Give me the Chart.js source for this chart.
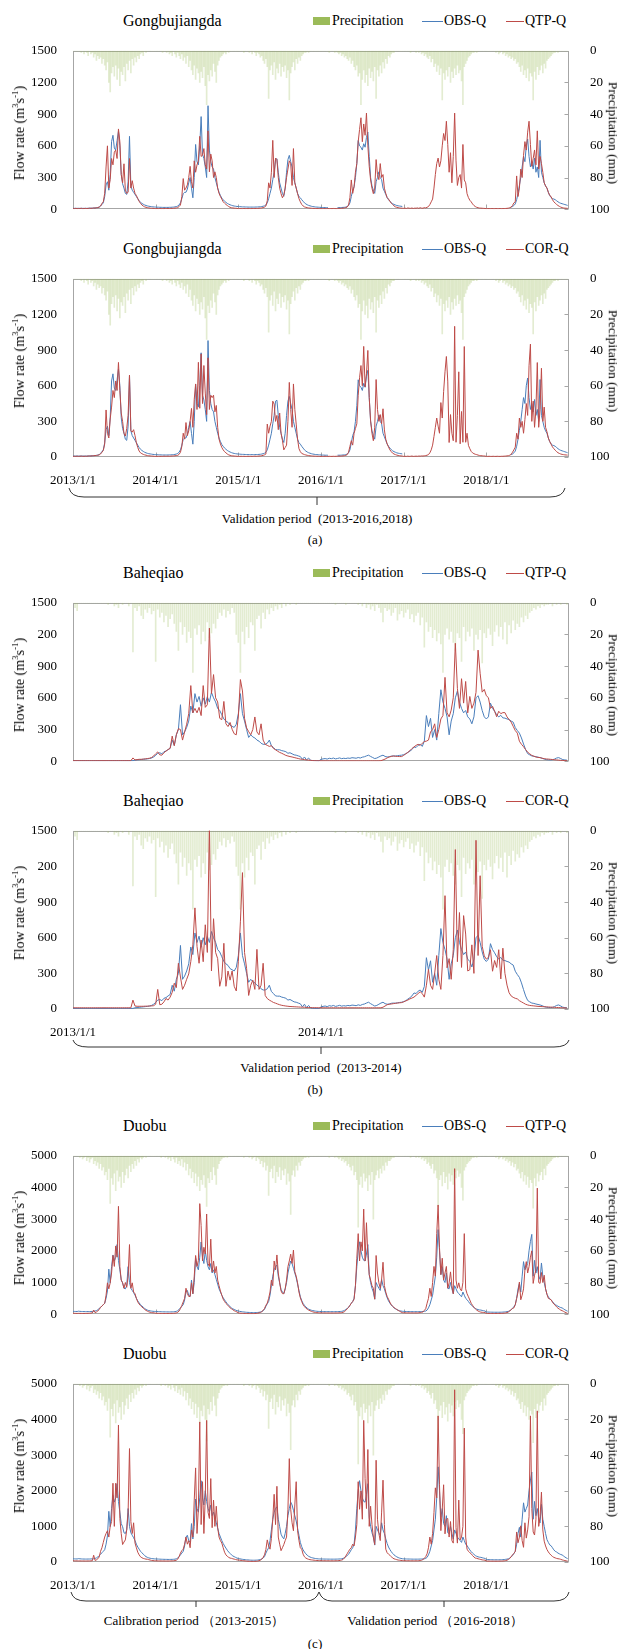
<!DOCTYPE html>
<html>
<head>
<meta charset="utf-8">
<script src="https://cdn.jsdelivr.net/npm/chart.js@4.4.1/dist/chart.umd.min.js"></script>
<style>
  body { margin: 0; width: 622px; height: 1649px; position: relative; background: #fff; overflow: hidden;
         font-family: "Liberation Serif", "Times New Roman", serif; color: #000; }
  canvas { position: absolute; left: 0; }
  .a { position: absolute; white-space: nowrap; line-height: 1; }
  .c { transform: translate(-50%, -50%); }
  .l { transform: translateY(-50%); }
  .rl { transform: translate(-50%, -50%) rotate(-90deg); font-size: 14px; }
  .rr { transform: translate(-50%, -50%) rotate(90deg); font-size: 13.5px; }
  sup { font-size: 9px; line-height: 0; }
  svg { position: absolute; left: 0; top: 0; }
</style>
</head>
<body>
<svg width="622" height="1649" fill="none" stroke="#333" stroke-width="1">
  <path d="M69,488 Q71,497 84,497 L550,497 Q563,497 565,488 M317,497 L317,505"/>
  <path d="M73,1040 Q75,1047 88,1047 L554,1047 Q567,1047 569,1040 M321,1047 L321,1054"/>
  <path d="M71,1592 Q73,1601 86,1601 L306,1601 Q316,1601 319,1592 Q322,1601 332,1601 L554,1601 Q567,1601 569,1592 M196,1601 L196,1607 M444,1601 L444,1607"/>
</svg>
<div class="a c" style="left:317px;top:518px;font-size:13px">Validation period&nbsp; (2013-2016,2018)</div>
<div class="a c" style="left:315px;top:539px;font-size:13px">(a)</div>
<div class="a c" style="left:321px;top:1067px;font-size:13px">Validation period&nbsp; (2013-2014)</div>
<div class="a c" style="left:315px;top:1089px;font-size:13px">(b)</div>
<div class="a c" style="left:194px;top:1620px;font-size:13px">Calibration period （2013-2015）</div>
<div class="a c" style="left:435px;top:1620px;font-size:13px">Validation period （2016-2018）</div>
<div class="a c" style="left:315px;top:1643px;font-size:13px">(c)</div>

<script>
// ---- Gongbujiangda, 60 samples per year, 2013-2018 ----
const gbObs = [
  8,8,8,8,8,8,8,8,8,8, 8,9,9,10,10,11,12,14,16,20, 30,45,60,120,230,260,180,330,640,700,
  580,560,650,740,600,330,240,200,150,140, 260,690,220,180,160,140,120,100,80,65, 55,47,40,35,31,28,26,24,22,21,
  20,19,19,18,18,17,17,17,17,17, 18,18,19,20,22,25,30,40,60,100, 147,160,160,190,250,300,199,108,300,613,
  450,420,600,877,520,480,400,300,980,560, 450,400,380,300,250,200,160,130,105,90, 75,65,55,48,42,37,33,30,28,26,
  25,24,23,22,22,21,21,20,20,20, 20,20,20,21,21,22,23,25,28,32, 40,60,100,150,200,280,350,470,478,350,
  250,200,150,122,200,350,470,510,450,400, 300,250,200,150,120,108,90,75,60,50, 42,36,32,28,25,23,21,20,19,18,
  17,16,16,15,15,15,null,null,null,null, null,null,15,15,15,16,17,18,20,25, 35,60,120,180,212,300,432,650,600,587,
  560,620,587,680,730,500,300,220,180,150, 260,300,354,300,280,200,170,140,110,90, 75,62,52,45,40,35,32,30,28,26,
  null,null,null,null,null,null,null,null,null,null, null,null,null,null,null,null,null,null,null,null, null,null,null,null,null,null,null,null,null,null,
  null,null,null,null,null,null,null,null,null,null, null,null,null,null,null,null,null,null,null,null, null,null,null,null,null,null,null,null,null,null,
  null,null,null,null,null,null,null,null,null,null, null,null,null,null,null,null,null,null,20,25, 35,50,90,150,225,300,400,500,450,600,
  665,500,400,450,380,484,350,400,300,652, 350,300,250,220,200,160,130,110,100,96, 90,80,70,62,56,52,48,44,40,36
];
const gbQtp = [
  6,5,8,5,7,6,9,5,6,8, 6,7,10,8,9,12,10,14,15,20, 30,55,70,150,400,600,200,280,480,420,
  540,560,480,760,640,330,250,430,180,150, 160,480,200,270,200,150,130,100,75,55, 40,30,22,18,15,12,10,9,8,7,
  5,6,5,7,5,6,5,8,6,7, 6,8,7,9,10,12,15,25,40,120, 290,180,200,230,300,406,260,200,458,350,
  420,458,690,500,510,574,420,380,742,354, 522,458,300,354,300,200,150,120,96,70, 57,45,35,25,18,14,12,10,9,8,
  5,6,5,5,7,5,6,5,6,5, 6,7,6,8,7,9,10,12,15,20, 30,80,250,200,350,652,300,484,470,300,
  200,147,108,135,200,300,380,458,432,225, 574,250,200,147,100,70,45,31,22,18, 15,12,10,9,8,7,7,6,6,5,
  5,5,6,5,5,6,5,6,5,7, 6,5,6,8,7,9,10,12,15,20, 40,110,277,150,212,350,432,639,755,866,
  639,807,700,910,600,406,277,199,147,200, 470,328,280,432,300,328,199,150,110,96, 75,57,44,31,22,18,15,12,10,9,
  8,10,7,12,9,8,11,7,10,9, 12,8,14,10,9,15,12,18,25,44, 70,96,200,328,432,484,400,458,600,717,
  650,833,613,350,535,250,500,910,458,225, 300,328,200,613,277,250,147,110,85,70, 50,35,25,18,14,11,10,9,8,7,
  5,6,5,5,6,5,5,6,5,5, 6,5,6,6,7,8,10,14,20,35, 60,70,315,120,200,380,300,510,640,560,
  730,833,613,406,480,561,420,742,380,500, 432,350,250,220,200,160,130,120,90,70, 57,45,35,27,20,15,12,10,9,8
];
const gbCor = [
  5,6,5,7,5,6,8,6,5,7, 6,8,9,8,10,11,12,13,15,18, 25,40,55,110,396,200,160,320,420,560,
  500,640,560,796,560,370,300,200,176,240, 350,690,220,210,230,180,120,80,50,35, 28,22,18,15,12,10,9,8,7,6,
  5,5,6,5,6,5,7,6,6,7, 6,7,8,9,10,12,14,22,40,90, 200,150,290,180,220,300,409,250,486,615,
  400,797,410,868,450,770,538,357,835,400, 520,500,520,380,434,250,150,110,80,60, 45,35,25,18,14,11,9,8,7,6,
  5,5,6,5,6,5,5,6,5,6, 5,6,7,6,7,8,9,11,14,18, 25,277,200,260,300,470,445,300,350,230,
  370,200,140,60,80,100,300,628,400,250, 615,400,277,150,70,45,30,25,20,17, 14,12,10,9,8,7,7,6,6,5,
  5,5,5,6,5,5,6,5,5,6, 5,6,6,7,7,8,9,11,14,20, 40,90,137,100,200,240,280,520,667,770,
  600,931,590,700,897,500,305,200,137,250, 652,400,300,357,280,406,228,150,110,85, 60,45,32,25,20,16,13,11,9,8,
  5,6,5,7,5,6,8,5,6,7, 6,8,7,9,8,10,12,15,20,35, 60,100,173,250,328,260,200,458,328,550,
  717,846,639,122,357,200,137,1100,124,350, 717,111,383,124,930,124,200,98,70,47, 35,28,23,20,16,13,11,10,9,8,
  5,5,6,5,5,6,5,5,6,5, 5,6,6,7,8,9,11,15,22,40, 60,83,200,150,328,250,300,200,315,450,
  350,768,950,300,470,250,400,795,250,400, 747,300,420,250,212,160,130,108,85,70, 57,45,36,30,25,22,20,18,17,16
];
const gbRain = [
  0,0,0,0,0,0,1,0,2,0, 1,3,0,2,1,4,2,6,3,5, 4,8,5,9,12,7,20,26,14,10,
  16,9,18,11,22,13,15,10,19,8, 12,6,14,5,9,4,7,3,5,2, 1,3,0,1,0,0,0,0,0,0,
  0,0,0,0,0,1,0,0,1,0, 2,1,3,0,2,4,1,3,5,2, 6,4,8,3,10,6,12,15,9,18,
  11,14,20,13,17,10,22,34,15,19, 12,16,8,13,20,9,6,4,3,2, 1,2,0,1,0,0,0,0,0,0,
  0,0,0,0,1,0,0,0,1,0, 2,0,1,3,1,2,4,3,6,8, 5,10,30,12,9,15,7,18,11,14,
  8,16,10,13,9,17,12,31,14,10, 7,12,5,8,4,6,3,2,1,1, 0,1,0,0,0,0,0,0,0,0,
  0,0,0,0,0,0,1,0,0,0, 1,0,1,2,1,3,2,4,3,5, 6,4,8,6,10,12,9,16,14,34,
  18,12,20,15,22,11,17,13,19,10, 30,12,16,9,14,7,11,5,8,3, 4,2,1,1,0,0,0,0,0,0,
  0,0,0,0,0,1,0,0,0,1, 0,1,0,2,1,3,2,4,5,3, 7,5,10,8,13,9,15,11,31,14,
  18,12,16,10,20,13,17,11,15,9, 14,12,19,34,10,8,6,4,3,2, 1,1,0,1,0,0,0,0,0,0,
  0,0,0,0,0,0,0,1,0,2, 1,0,2,1,3,2,4,3,5,4, 6,5,8,7,10,13,9,15,12,17,
  11,19,14,16,31,13,18,10,15,12, 9,14,8,11,6,5,4,3,2,1, 1,0,1,0,0,0,0,0,0,0
];

// ---- Baheqiao, 120 samples per year, 2013-2014 ----
const bhObs = [
  5,5,5,5,5,5,5,5,5,5, 5,5,5,5,5,5,5,5,5,5, 5,5,5,5,5,5,5,5,5,5, 10,12,14,16,18,20,22,25,30,40,
  55,75,80,70,90,96,110,122,200,150, 250,300,535,250,277,320,380,522,458,640, 560,613,520,600,540,610,560,652,600,561,
  500,480,440,400,380,367,340,330,320,350, 450,640,450,380,300,225,250,230,220,200, 190,170,160,160,170,200,147,130,110,108,
  108,100,96,90,75,80,70,60,57,50, 44,18,40,12,30,8,6,5,4,3, 18,22,25,20,28,24,30,22,26,31,
  24,28,25,30,27,33,31,28,35,30, 38,42,50,57,45,35,25,30,40,50, 57,45,40,42,48,50,49,52,55,57,
  62,70,83,95,110,135,130,150,160,140, 190,432,328,406,225,300,200,450,677,561, 500,420,250,380,450,600,665,561,500,458,
  480,420,400,354,420,600,620,560,480,420, 400,420,550,500,473,440,420,434,410,408, 400,395,380,370,318,290,266,220,163,110,
  72,60,50,47,42,38,34,28,20,15, 13,12,14,20,30,34,25,15,12,10
];
const bhQtp = [
  5,5,5,5,5,5,5,5,5,5, 5,5,5,5,5,5,5,5,5,5, 5,5,5,5,5,5,5,5,5,31, 12,15,18,18,20,22,25,28,35,49,
  70,88,60,57,80,96,110,122,238,147, 250,308,300,200,277,350,450,716,458,500, 458,510,432,716,510,535,1260,640,820,600,
  561,406,393,566,354,328,367,302,260,250, 419,773,665,406,315,280,250,300,419,277, 250,354,200,160,150,140,147,120,108,95,
  83,75,65,55,49,44,40,35,30,25, 20,18,15,12,10,8,6,5,4,4, 3,3,3,3,3,3,3,3,3,3,
  3,3,3,3,3,3,3,3,3,3, 3,3,3,3,3,3,3,3,3,5, 12,20,31,40,45,49,47,45,44,44,
  55,70,83,100,120,135,150,160,150,170, 186,190,200,277,300,354,225,300,400,432, 794,458,420,484,600,1117,690,500,781,550,
  755,458,613,500,550,652,1052,833,654,680, 620,602,500,520,473,421,473,450,460,460, 420,395,370,330,290,266,189,160,137,110,
  85,70,55,47,40,36,34,28,24,21, 20,18,16,14,12,10,8,7,6,5
];
const bhCor = [
  10,10,10,10,10,10,10,10,10,10, 10,10,10,10,10,10,10,10,10,10, 10,10,10,10,10,10,10,10,10,75, 25,23,23,23,23,24,24,25,26,28,
  40,165,36,40,60,88,75,100,140,217, 180,385,269,165,200,250,295,400,540,851, 528,385,580,398,709,476,1550,320,760,476,
  424,191,270,553,191,320,243,320,191,152, 398,734,1148,476,340,114,200,243,165,502, 165,200,385,114,88,75,65,55,49,42,
  36,31,28,25,23,21,20,19,18,17, 16,15,15,12,12,12,11,11,11,10, 10,10,10,10,10,10,10,10,10,10,
  10,10,10,10,10,10,10,10,10,10, 10,10,10,10,10,10,10,10,10,10, 15,25,36,40,42,45,48,50,52,54,
  60,68,75,85,92,100,115,130,145,130, 100,200,334,200,165,300,450,250,165,450, 954,347,424,250,500,1342,398,812,350,786,
  631,320,330,540,300,1420,450,1122,528,447, 420,434,499,318,408,350,499,253,512,300, 201,137,110,98,90,85,70,60,50,40,
  34,30,28,26,24,22,21,20,19,18, 17,16,15,14,13,12,11,10,9,8
];
const bhRain = [
  0,3,5,0,0,0,0,0,0,0, 0,0,0,0,0,0,0,1,0,0, 2,1,3,0,1,0,0,2,0,31, 3,5,2,8,10,4,6,3,7,5,
  37,4,9,6,12,8,15,10,7,13, 18,30,12,20,15,25,18,22,44,16, 20,14,26,18,24,12,22,19,13,16,
  10,6,8,4,9,5,7,3,6,20, 25,44,18,26,15,22,12,14,30,10, 8,16,6,10,4,7,3,5,2,4,
  1,3,0,2,0,1,0,0,1,0, 0,0,0,0,0,0,0,0,0,0, 0,0,0,0,0,0,0,1,0,0,
  0,0,1,0,0,0,0,0,1,0, 2,0,3,1,4,2,5,1,3,6, 12,3,5,4,8,6,3,11,7,5,
  9,6,4,10,7,12,8,6,14,9, 28,12,18,15,22,17,24,19,26,44, 20,16,23,18,25,30,19,22,37,15,
  24,18,21,16,30,20,23,17,38,19, 22,16,20,27,18,14,21,15,23,12, 26,14,19,11,17,13,15,9,12,8,
  10,6,5,3,4,2,3,1,2,1, 1,0,2,0,1,0,1,0,0,1
];

// ---- Duobu, 60 samples per year, 2013-2018 ----
const dbObs = [
  90,88,86,85,95,90,86,84,83,82, 82,83,84,85,88,92,100,115,140,180, 215,260,300,345,500,733,1422,990,1500,1870,
  1680,1800,2198,1700,1400,1078,990,820,800,900, 1500,1000,820,750,680,600,500,420,360,300, 260,220,180,150,130,115,105,98,92,88,
  86,84,82,80,78,76,75,74,73,72, 72,73,74,76,80,90,110,150,200,250, 300,450,700,750,600,560,1078,646,1000,1767,
  1500,1400,1800,2280,1800,1600,2000,1700,1500,1400, 1600,1300,1400,1250,1100,950,800,700,600,520, 450,390,330,280,240,200,170,150,130,110,
  100,90,82,75,70,65,60,58,55,52, 50,50,50,52,55,60,70,85,110,150, 250,330,400,600,900,1200,1400,1500,1550,1200,
  990,780,700,650,800,1000,1300,1500,1680,1600, 1450,1300,1150,950,750,550,430,340,280,230, 190,160,140,125,115,105,98,92,88,86,
  85,84,83,82,82,81,81,80,80,80, 80,81,82,84,86,90,100,120,150,180, 215,280,345,400,500,900,1500,2000,2284,2000,
  1800,1700,1680,1900,2198,1250,1000,820,700,474, 1000,900,820,750,1100,900,800,650,520,420, 350,290,240,200,170,145,125,110,100,92,
  88,86,85,84,83,82,81,80,80,80, 80,81,82,84,86,90,100,130,200,300, 450,600,900,1200,1800,2670,2000,1250,1500,1078,
  1000,1300,820,800,1000,800,646,900,800,700, 650,600,550,700,600,500,460,400,340,290, 250,215,180,160,145,135,130,120,110,100,
  70,68,66,65,64,63,62,62,62,62, 63,64,66,70,75,80,90,110,140,180, 240,300,500,800,972,700,1200,1660,1400,1500,
  1600,2000,2300,2520,1200,1700,1300,1500,1200,1100, 1617,1200,1000,800,628,550,480,456,400,340, 300,280,250,230,210,198,170,140,115,95
];
const dbQtp = [
  30,28,26,25,27,26,25,24,24,25, 26,28,30,35,40,130,50,70,100,150, 215,260,300,345,600,990,800,990,1300,1853,
  1508,2155,1800,3405,1508,1078,990,820,1000,850, 1200,2198,820,990,700,646,500,388,320,270, 230,190,150,120,95,75,60,50,45,40,
  30,28,27,26,25,24,24,23,23,23, 24,25,26,28,32,40,60,100,180,280, 388,500,820,650,560,560,990,646,1200,1853,
  1508,1700,3490,2800,1680,2112,1900,3163,1600,1508, 2370,1336,1680,1300,1508,1078,900,733,600,474, 400,340,300,250,200,172,140,110,90,70,
  40,35,30,28,25,22,20,18,17,17, 17,18,20,24,30,40,55,80,120,180, 280,350,500,700,1078,900,1680,1400,1870,1300,
  990,733,650,646,800,1078,1500,1680,1896,1600, 2025,1336,1200,990,700,520,400,300,240,190, 160,130,110,90,75,62,55,50,46,43,
  43,42,41,40,40,39,39,38,38,38, 38,39,40,42,45,50,60,80,120,170, 215,280,345,400,474,900,1767,2543,1680,2284,
  2000,3318,1680,2888,1853,1250,1078,900,820,474, 1853,1300,990,820,1100,1640,905,700,560,474, 380,300,250,210,180,150,120,95,70,50,
  45,44,43,42,42,41,41,40,40,40, 40,45,50,60,70,120,172,345,500,820, 560,1000,1508,1200,2543,3448,2100,1250,1767,1078,
  1300,1508,820,990,1336,900,646,4595,1078,820, 990,800,733,1000,2543,800,646,550,450,345, 280,215,170,130,100,80,65,60,55,50,
  26,25,25,24,24,24,23,23,23,24, 25,26,28,32,40,50,70,100,150,180, 200,300,500,700,1015,456,600,800,1400,1660,
  1300,1500,1800,2000,972,1230,1400,3980,1000,972, 1316,1000,1230,800,628,500,480,456,380,320, 284,230,190,160,130,112,90,65,45,26
];
const dbCor = [
  35,33,32,31,30,30,29,29,28,28, 28,29,30,32,35,190,45,60,90,140, 300,400,550,700,800,877,700,1000,1135,2210,
  1000,2210,1800,3844,1221,800,490,560,620,900, 1400,3182,1135,800,1100,533,400,275,200,146, 120,100,90,80,77,65,55,45,40,34,
  34,32,31,30,30,29,29,28,28,28, 29,30,32,35,40,50,80,150,250,320, 360,500,700,500,600,400,900,700,1737,2640,
  800,1500,3930,1050,2253,800,1800,3973,1400,1221, 2340,963,1737,1000,1565,963,700,600,533,400, 275,200,160,130,110,103,90,80,70,60,
  55,50,45,40,35,30,25,22,20,18, 17,17,18,20,25,35,50,80,130,200, 350,620,450,360,660,1200,1900,1050,2124,700,
  500,318,400,490,600,700,1480,2900,1480,1100, 877,1600,2253,877,600,400,360,220,146,110, 90,75,65,60,55,50,45,42,40,38,
  37,36,35,35,34,34,33,33,33,33, 34,35,37,40,45,55,70,110,170,232, 300,360,400,500,450,700,1050,2253,1480,1995,
  1200,3973,2340,1500,3156,1000,1565,1050,700,490, 2855,1200,800,600,1400,2296,1050,360,260,220, 190,150,110,90,77,65,55,50,45,40,
  37,36,35,35,34,34,33,33,33,33, 34,36,40,50,70,100,150,232,400,700, 500,800,1393,2081,1800,4100,2167,880,1480,2167,
  790,1200,1221,700,1135,600,530,4833,963,530, 1737,620,700,1000,3758,700,360,300,260,232, 180,140,110,103,90,80,70,60,55,50,
  26,25,25,24,24,24,23,23,23,24, 25,26,28,32,40,50,70,100,150,200, 240,300,843,540,700,1015,600,412,1100,670,
  900,1270,4100,1500,843,757,1200,4240,1000,1270, 1960,900,585,450,350,283,230,190,155,130, 115,100,92,86,75,60,50,40,32,26
];
const dbRain = [
  0,0,0,0,0,1,0,2,1,0, 3,1,4,2,1,5,3,6,4,8, 5,9,7,12,10,15,8,30,14,18,
  11,22,9,16,13,20,10,17,12,8, 14,6,10,5,8,3,6,2,4,1, 2,1,0,1,0,0,0,0,0,0,
  0,0,0,0,1,0,0,1,0,2, 1,3,0,2,4,1,5,3,6,2, 7,4,9,5,12,8,14,10,17,11,
  19,13,22,15,18,12,20,32,14,17, 10,15,7,12,18,8,5,3,2,1, 1,0,1,0,0,0,0,0,0,0,
  0,0,0,0,1,0,0,0,1,0, 2,1,0,3,1,2,5,3,7,4, 9,6,25,10,8,14,6,17,10,13,
  7,15,9,12,8,18,11,16,37,12, 9,13,6,9,4,6,3,2,1,1, 0,1,0,0,0,0,0,0,0,0,
  0,0,0,0,0,0,1,0,0,0, 1,0,1,2,1,3,2,4,3,6, 5,7,9,6,12,10,15,45,18,13,
  20,11,16,14,22,12,18,10,40,15, 12,9,14,8,11,6,9,4,6,3, 3,2,1,1,0,0,0,0,0,0,
  0,0,0,0,0,1,0,0,0,1, 0,1,0,2,1,3,2,5,4,6, 8,5,11,9,14,32,15,12,19,10,
  17,13,21,11,16,12,18,10,14,9, 13,11,20,28,9,7,5,4,3,2, 1,1,0,1,0,0,0,0,0,0,
  0,0,0,0,0,0,0,1,0,2, 1,0,2,1,3,2,4,3,6,4, 7,5,9,8,11,14,10,16,12,18,
  13,20,15,17,33,14,19,11,16,12, 10,15,8,12,6,5,4,3,2,1, 1,0,1,0,0,0,0,0,0,0
];

const yearsLong = [2013, 2014, 2015, 2016, 2017, 2018];
const yearsShort = [2013, 2014];

const OBS_COLOR = '#4a7ebb';
const SIM_COLOR = '#be4b48';
const RAIN_COLOR = 'rgba(155,187,89,0.28)';

Chart.defaults.font.family = '"Liberation Serif", "Times New Roman", serif';
Chart.defaults.font.size = 13;
Chart.defaults.color = '#000';

function add(html) {
  document.body.insertAdjacentHTML('beforeend', html);
}

function header(y, name, simName) {
  add(`<div class="a l" style="left:123px;top:${y}px;font-size:16px">${name}</div>
    <div class="a" style="left:313px;top:${y - 4}px;width:17px;height:8px;background:#9bbb59"></div>
    <div class="a l" style="left:332px;top:${y}px;font-size:14px">Precipitation</div>
    <div class="a" style="left:422px;top:${y}px;width:21px;border-top:1px solid ${OBS_COLOR}"></div>
    <div class="a l" style="left:444px;top:${y}px;font-size:14px">OBS-Q</div>
    <div class="a" style="left:506px;top:${y}px;width:18px;border-top:1px solid ${SIM_COLOR}"></div>
    <div class="a l" style="left:525px;top:${y}px;font-size:14px">${simName}</div>`);
}

const framePlugin = {
  id: 'frame',
  beforeDatasetsDraw(chart) {
    const { ctx, chartArea: a, scales } = chart;
    ctx.save();
    ctx.strokeStyle = '#a6a6a6';
    ctx.lineWidth = 1;
    const l = Math.round(a.left) + 0.5, r = Math.round(a.right) - 0.5;
    const t = Math.round(a.top) + 0.5, b = Math.round(a.bottom) - 0.5;
    ctx.strokeRect(l, t, r - l, b - t);
    ctx.beginPath();
    scales.y2.ticks.forEach(tk => {
      const y = Math.round(scales.y2.getPixelForValue(tk.value)) + 0.5;
      ctx.moveTo(r - 4, y); ctx.lineTo(r, y);
    });
    scales.x.ticks.forEach(tk => {
      const x = Math.round(scales.x.getPixelForValue(tk.value)) + 0.5;
      if (x > l + 2 && x < r - 2) { ctx.moveTo(x, b); ctx.lineTo(x, b - 4); }
    });
    ctx.stroke();
    ctx.restore();
  }
};

function panel(o) {
  const padTop = 6;
  const xH = o.labels ? 30 : 1;
  const c = document.createElement('canvas');
  c.width = 622;
  c.height = padTop + o.h + xH;
  c.style.top = (o.top - padTop) + 'px';
  document.body.appendChild(c);

  const step = 1 / o.perYear;
  const pts = arr => arr.map((v, i) => ({ x: 2013 + i * step, y: v }));

  new Chart(c, {
    type: 'line',
    data: {
      datasets: [
        { label: o.simName, data: pts(o.sim), borderColor: SIM_COLOR, borderWidth: 1,
          pointRadius: 0, order: 0, yAxisID: 'y' },
        { label: 'OBS-Q', data: pts(o.obs), borderColor: OBS_COLOR, borderWidth: 1,
          pointRadius: 0, order: 1, yAxisID: 'y' },
        { type: 'bar', label: 'Precipitation', data: pts(o.rain), backgroundColor: RAIN_COLOR,
          barThickness: o.barW, order: 2, yAxisID: 'y2' }
      ]
    },
    options: {
      responsive: false,
      animation: false,
      devicePixelRatio: 1,
      layout: { padding: { top: padTop, left: 0, right: 0, bottom: 0 } },
      plugins: { legend: { display: false }, tooltip: { enabled: false } },
      scales: {
        x: {
          type: 'linear', min: 2013, max: o.xMax, offset: false,
          grid: { display: false }, border: { display: false },
          ticks: { display: o.labels, padding: 8, maxRotation: 0, autoSkip: false,
                   callback: v => v + '/1/1' },
          afterBuildTicks: s => { s.ticks = o.years.map(v => ({ value: v })); },
          afterFit: s => { s.height = xH; }
        },
        y: {
          position: 'left', min: 0, max: o.yMax,
          grid: { display: false }, border: { display: false },
          ticks: { stepSize: o.yStep, padding: 8, callback: o.yLabel || (v => v) },
          afterFit: s => { s.width = 73; }
        },
        y2: {
          position: 'right', reverse: true, min: 0, max: 100,
          grid: { display: false }, border: { display: false },
          ticks: { stepSize: 20, padding: 13 },
          afterFit: s => { s.width = 53; }
        }
      }
    },
    plugins: [framePlugin]
  });

  const mid = o.top + o.h / 2;
  add(`<div class="a rl" style="left:20px;top:${mid}px">Flow rate (m<sup>3</sup>s<sup>-1</sup>)</div>
    <div class="a rr" style="left:613px;top:${mid}px">Precipitation (mm)</div>`);
  header(o.titleY, o.name, o.simName);
}

const bhLabel = v => (v === 1200 ? '200' : v);

panel({ top: 36, h: 193, titleY: 21, name: 'Gongbujiangda', simName: 'QTP-Q', obs: gbObs, sim: gbQtp, rain: gbRain,
        perYear: 60, xMax: 2019, years: yearsLong, yMax: 1500, yStep: 300, labels: false, barW: 1 });
panel({ top: 264, h: 193, titleY: 249, name: 'Gongbujiangda', simName: 'COR-Q', obs: gbObs, sim: gbCor, rain: gbRain,
        perYear: 60, xMax: 2019, years: yearsLong, yMax: 1500, yStep: 300, labels: true, barW: 1 });
panel({ top: 588, h: 193, titleY: 573, name: 'Baheqiao', simName: 'QTP-Q', obs: bhObs, sim: bhQtp, rain: bhRain,
        perYear: 120, xMax: 2015, years: yearsShort, yMax: 1500, yStep: 300, yLabel: bhLabel, labels: false, barW: 1 });
panel({ top: 816, h: 193, titleY: 801, name: 'Baheqiao', simName: 'COR-Q', obs: bhObs, sim: bhCor, rain: bhRain,
        perYear: 120, xMax: 2015, years: yearsShort, yMax: 1500, yStep: 300, yLabel: bhLabel, labels: true, barW: 1 });
panel({ top: 1141, h: 193, titleY: 1126, name: 'Duobu', simName: 'QTP-Q', obs: dbObs, sim: dbQtp, rain: dbRain,
        perYear: 60, xMax: 2019, years: yearsLong, yMax: 5000, yStep: 1000, labels: false, barW: 1 });
panel({ top: 1369, h: 193, titleY: 1354, name: 'Duobu', simName: 'COR-Q', obs: dbObs, sim: dbCor, rain: dbRain,
        perYear: 60, xMax: 2019, years: yearsLong, yMax: 5000, yStep: 1000, labels: true, barW: 1 });
</script>
</body>
</html>
